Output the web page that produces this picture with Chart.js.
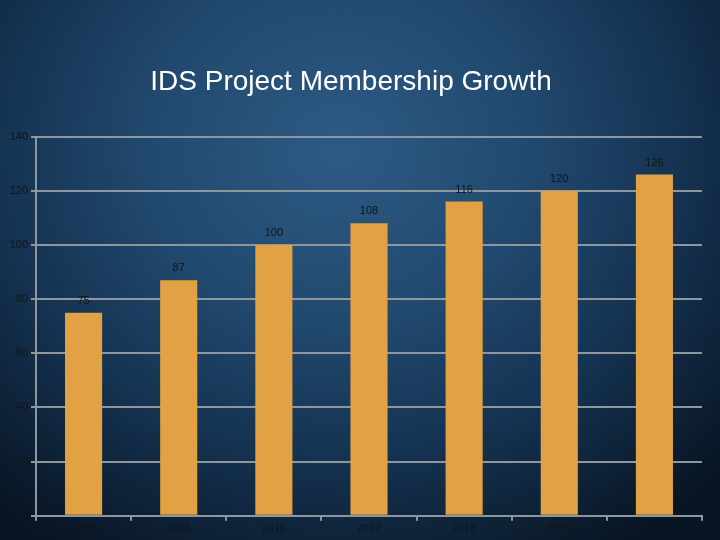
<!DOCTYPE html>
<html>
<head>
<meta charset="utf-8">
<script src="https://cdn.jsdelivr.net/npm/chart.js@4"></script>
<style>
  html, body { margin: 0; padding: 0; }
  body {
    width: 720px; height: 540px; overflow: hidden;
    background: radial-gradient(ellipse 520px 470px at 340px 150px, #2d5a84 0%, #224a70 35%, #153352 65%, #0c1d30 90%, #081522 100%);
  }
  #wrap { position: relative; width: 720px; height: 540px; }
</style>
</head>
<body>
<div id="wrap"><canvas id="barChart"></canvas></div>
<script>
const years = ['2014', '2015', '2016', '2017', '2018', '2019', '2020'];
const members = [75, 87, 100, 108, 116, 120, 126];
const yTicks = [0, 20, 40, 60, 80, 100, 120, 140];

const gridGrey = '#8f979e';
const tickText = '#141414';

// value labels just above each bar
const valueLabels = {
  id: 'valueLabels',
  afterDatasetsDraw(chart) {
    const ctx = chart.ctx;
    const meta = chart.getDatasetMeta(0);
    ctx.save();
    ctx.font = '11px "Liberation Sans", Arial, sans-serif';
    ctx.fillStyle = tickText;
    ctx.textAlign = 'center';
    ctx.textBaseline = 'middle';
    meta.data.forEach(function (bar, i) {
      ctx.fillText(members[i], bar.x, bar.y - 12);
    });
    ctx.restore();
  }
};

const ctx = document.getElementById('barChart').getContext('2d');

const barChart = new Chart(ctx, {
  type: 'bar',
  data: {
    labels: years,
    datasets: [{
      label: 'Members',
      data: members,
      backgroundColor: '#e2a142',
      borderWidth: 0,
      categoryPercentage: 1,
      barPercentage: 0.39
    }]
  },
  options: {
    responsive: true,
    maintainAspectRatio: false,
    animation: false,
    layout: { padding: { left: 0, right: 18, top: 0, bottom: 2 } },
    plugins: {
      legend: { display: false },
      tooltip: { enabled: false },
      title: {
        display: true,
        text: 'IDS Project Membership Growth',
        color: '#ffffff',
        font: { family: '"Liberation Sans", Arial, sans-serif', size: 28, weight: 'normal' },
        padding: { top: 65, bottom: 38 }
      }
    },
    scales: {
      x: {
        grid: { display: true, drawOnChartArea: false, drawTicks: true, tickLength: 5, color: gridGrey, lineWidth: 2 },
        border: { display: true, color: gridGrey, width: 2 },
        ticks: { color: tickText, font: { family: '"Liberation Sans", Arial, sans-serif', size: 11 }, padding: 2 }
      },
      y: {
        min: 0,
        max: 140,
        afterBuildTicks: function (axis) {
          axis.ticks = yTicks.map(function (v) { return { value: v }; });
        },
        afterFit: function (axis) { axis.width = 36; },
        grid: { color: gridGrey, lineWidth: 2, tickLength: 5 },
        border: { display: true, color: gridGrey, width: 2 },
        ticks: { color: tickText, font: { family: '"Liberation Sans", Arial, sans-serif', size: 11 }, padding: 3 }
      }
    }
  },
  plugins: [valueLabels]
});
</script>
</body>
</html>
